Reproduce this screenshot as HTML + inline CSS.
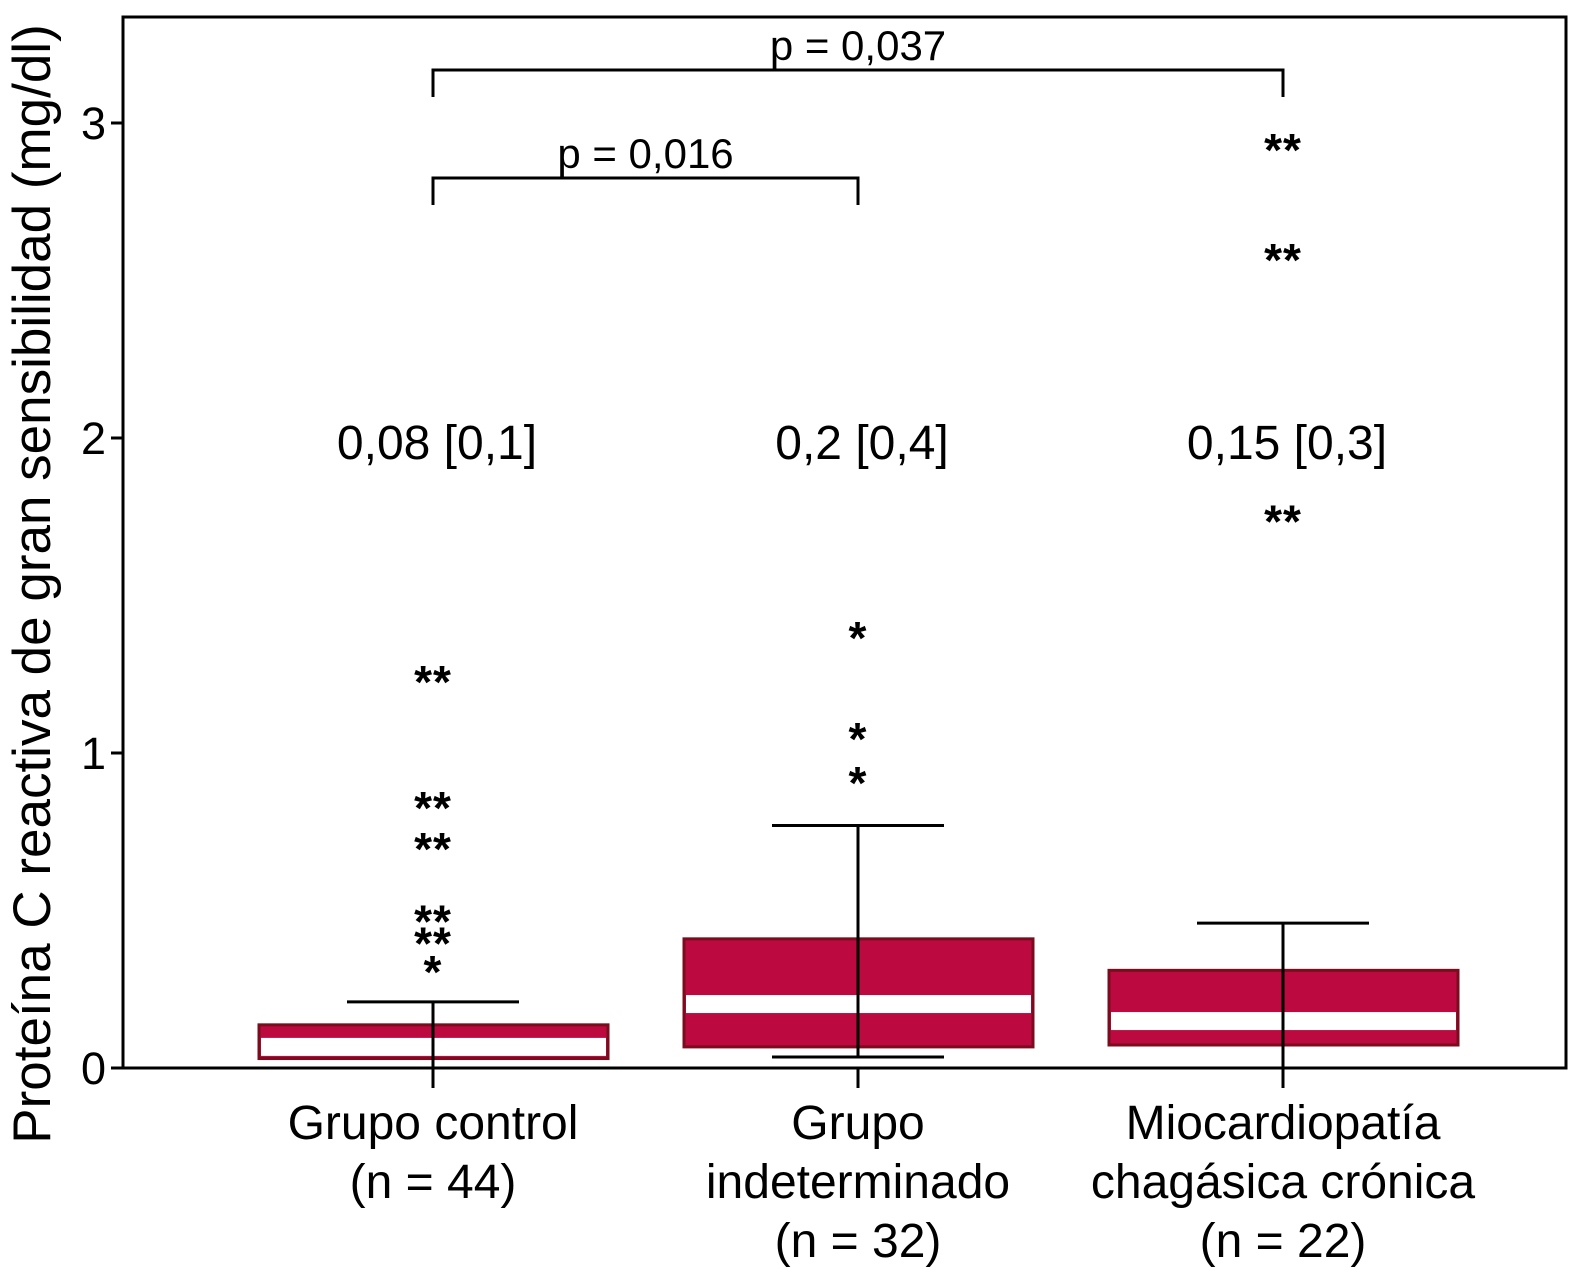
<!DOCTYPE html>
<html><head><meta charset="utf-8"><style>
html,body{margin:0;padding:0;background:#fff}
svg text{font-family:"Liberation Sans",Arial,sans-serif;fill:#000}
</style></head><body>
<svg id="chart" width="1574" height="1271" xmlns="http://www.w3.org/2000/svg">
<rect x="123" y="17" width="1443" height="1051" fill="none" stroke="#000" stroke-width="3"/>
<g id="g"></g>
<text transform="translate(50,584) rotate(-90)" text-anchor="middle" font-size="53">Proteína C reactiva de gran sensibilidad (mg/dl)</text>
</svg>
<script>
const categories=["Grupo control|(n = 44)","Grupo|indeterminado|(n = 32)","Miocardiopatía|chagásica crónica|(n = 22)"];
const q1=[0.03,0.067,0.073];
const medians=[0.067,0.203,0.149];
const q3=[0.137,0.41,0.31];
const whiskerLo=[0,0.035,0];
const whiskerHi=[0.21,0.77,0.46];
const summaries=["0,08 [0,1]","0,2 [0,4]","0,15 [0,3]"];
const outlierGroup=[0,0,0,0,0,0,1,1,1,2,2,2];
const outlierValue=[1.26,0.86,0.73,0.50,0.43,0.34,1.40,1.08,0.94,2.95,2.60,1.77];
const outlierMark=["**","**","**","**","**","*","*","*","*","**","**","**"];
const yTicks=[0,1,2,3];
const pLabels=["p = 0,037","p = 0,016"];
const pFrom=[0,0];const pTo=[2,1];

const NS="http://www.w3.org/2000/svg";
const g=document.getElementById('g');
const y=v=>1068-v*315;
const x=i=>433+i*425;
function mk(t,a,txt){const e=document.createElementNS(NS,t);for(const k in a)e.setAttribute(k,a[k]);if(txt!==undefined)e.textContent=txt;g.appendChild(e);return e;}
yTicks.forEach(t=>{
 const l=mk('line',{x1:111,x2:123,y1:y(t),y2:y(t),stroke:'#000','stroke-width':3});
 
 
 const tx=mk('text',{x:106,y:y(t)+16,'text-anchor':'end','font-size':45},String(t));
 
 
});
categories.forEach((c,i)=>{
 const cx=x(i);
 const tk=mk('line',{x1:cx,x2:cx,y1:1068,y2:1088,stroke:'#000','stroke-width':3});
 
 
 const b=mk('rect',{x:cx-174,y:y(q3[i]),width:349,height:y(q1[i])-y(q3[i]),fill:'#bc0a40',stroke:'#7a0c1e','stroke-width':3});
 
 
 const top=Math.max(y(medians[i])-9,y(q3[i])+2), bot=Math.min(y(medians[i])+9,y(q1[i])-2);
 const m=mk('rect',{x:cx-172,y:top,width:345,height:bot-top,fill:'#fff'});
 
 
 const w=mk('line',{x1:cx,x2:cx,y1:y(whiskerHi[i]),y2:y(whiskerLo[i]),stroke:'#000','stroke-width':3});
 
 
 const cap=mk('line',{x1:cx-86,x2:cx+86,y1:y(whiskerHi[i]),y2:y(whiskerHi[i]),stroke:'#000','stroke-width':3});
 
 
 if(whiskerLo[i]>0){const c2=mk('line',{x1:cx-86,x2:cx+86,y1:y(whiskerLo[i]),y2:y(whiskerLo[i]),stroke:'#000','stroke-width':3});
 
 }
 const s=mk('text',{x:cx+4,y:459,'text-anchor':'middle','font-size':48},summaries[i]);
 
 
 c.split('|').forEach((ln,j)=>{
  const t=mk('text',{x:cx,y:1139+j*59,'text-anchor':'middle','font-size':48},ln);
  
  
 });
});
outlierValue.forEach((v,k)=>{
 const t=mk('text',{x:x(outlierGroup[k]),y:y(v)+27,'text-anchor':'middle','font-size':46,'font-weight':'bold','letter-spacing':'1'},outlierMark[k]);
 
 
});
const bY=[70,178];
pLabels.forEach((p,k)=>{
 const a=x(pFrom[k]),b=x(pTo[k]);
 const pl=mk('polyline',{points:`${a},${bY[k]+27} ${a},${bY[k]} ${b},${bY[k]} ${b},${bY[k]+27}`,fill:'none',stroke:'#000','stroke-width':3});
 
 
 const t=mk('text',{x:(a+b)/2,y:bY[k]-10,'text-anchor':'middle','font-size':42},p);
 
 
});
</script>
</body></html>
